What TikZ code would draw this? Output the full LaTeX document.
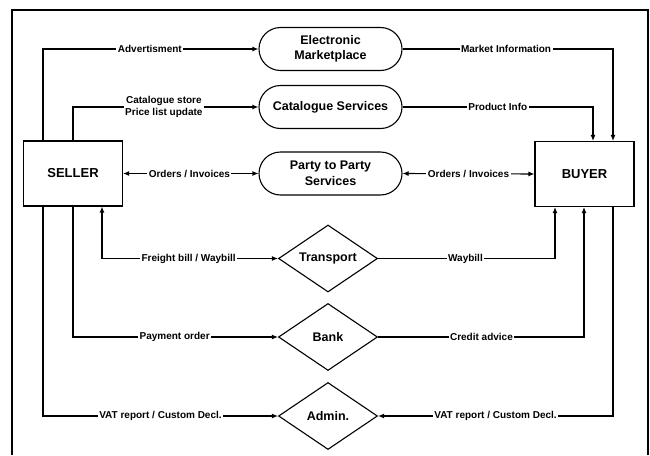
\documentclass[tikz,border=0pt]{standalone}
\usepackage{fontspec}
\setmainfont{Liberation Sans}
\usetikzlibrary{arrows.meta,shapes.geometric}
\begin{document}
\begin{tikzpicture}[x=1pt,y=-1pt,
  line width=1.1pt,
  party/.style={draw, minimum width=99pt, minimum height=65pt, inner sep=0pt,
    font=\fontsize{13}{15}\selectfont\bfseries},
  service/.style={draw, rounded corners=21.5pt, minimum width=143pt, minimum height=43pt,
    inner sep=0pt, align=center, font=\fontsize{12.5}{15.5}\selectfont\bfseries},
  agency/.style={draw, diamond, aspect=1.5, minimum width=99pt, minimum height=67pt,
    inner sep=0pt, font=\fontsize{12.5}{15}\selectfont\bfseries},
  flow/.style={-{Latex[length=6pt,width=5pt]}},
  twoway/.style={{Latex[length=6pt,width=5pt]}-{Latex[length=6pt,width=5pt]}},
  lbl/.style={fill=white, inner sep=1.5pt, align=center,
    font=\fontsize{10}{11.5}\selectfont\bfseries}
]
\useasboundingbox (0,0) rectangle (650,455);

% outer frame (open at the bottom)
\draw (12,455) -- (12,10) -- (648,10) -- (648,455);

% trading parties
\node[party] (seller) at (73,173.5) {SELLER};
\node[party] (buyer) at (584.5,174) {BUYER};

% service providers
\node[service] (em) at (330.5,49) {Electronic\\Marketplace};
\node[service] (cs) at (330.5,107) {Catalogue Services};
\node[service] (pp) at (330.5,173.5) {Party to Party\\Services};

% agencies
\node[agency] (tr) at (328,258.5) {Transport};
\node[agency] (bk) at (328,337) {Bank};
\node[agency] (ad) at (328,416) {Admin.};

% vertical lanes below / above the parties
\coordinate (sA) at (43,0);
\coordinate (sB) at (73,0);
\coordinate (sC) at (102,0);
\coordinate (bA) at (555,0);
\coordinate (bB) at (584,0);
\coordinate (bC) at (613,0);
\coordinate (bD) at (593,0);

% seller side
\draw[flow] (seller.north -| sA) |- (em.west)
  node[lbl, pos=0.748] {Advertisment};
\draw[flow] (seller.north -| sB) |- (cs.west)
  node[lbl, pos=0.745] {Catalogue store\\Price list update};
\draw[twoway] (seller.east) -- (pp.west)
  node[lbl, pos=0.49] {Orders / Invoices};
\draw[twoway] (tr.west) -| (seller.south -| sC)
  node[lbl, pos=0.254] {Freight bill / Waybill};
\draw[flow] (seller.south -| sB) |- (bk.west)
  node[lbl, pos=0.748] {Payment order};
\draw[flow] (seller.south -| sA) |- (ad.west)
  node[lbl, pos=0.75] {VAT report / Custom Decl.};

% buyer side
\draw[flow] (em.east) -| (buyer.north -| bC)
  node[lbl, pos=0.246] {Market Information};
\draw[flow] (cs.east) -| (buyer.north -| bD)
  node[lbl, pos=0.25] {Product Info};
\draw[twoway] (pp.east) -- (buyer.west)
  node[lbl, pos=0.5] {Orders / Invoices};
\draw[flow] (tr.east) -| (buyer.south -| bA)
  node[lbl, pos=0.247] {Waybill};
\draw[flow] (bk.east) -| (buyer.south -| bB)
  node[lbl, pos=0.251] {Credit advice};
\draw[flow] (buyer.south -| bC) |- (ad.east)
  node[lbl, pos=0.75] {VAT report / Custom Decl.};
\end{tikzpicture}
\end{document}
